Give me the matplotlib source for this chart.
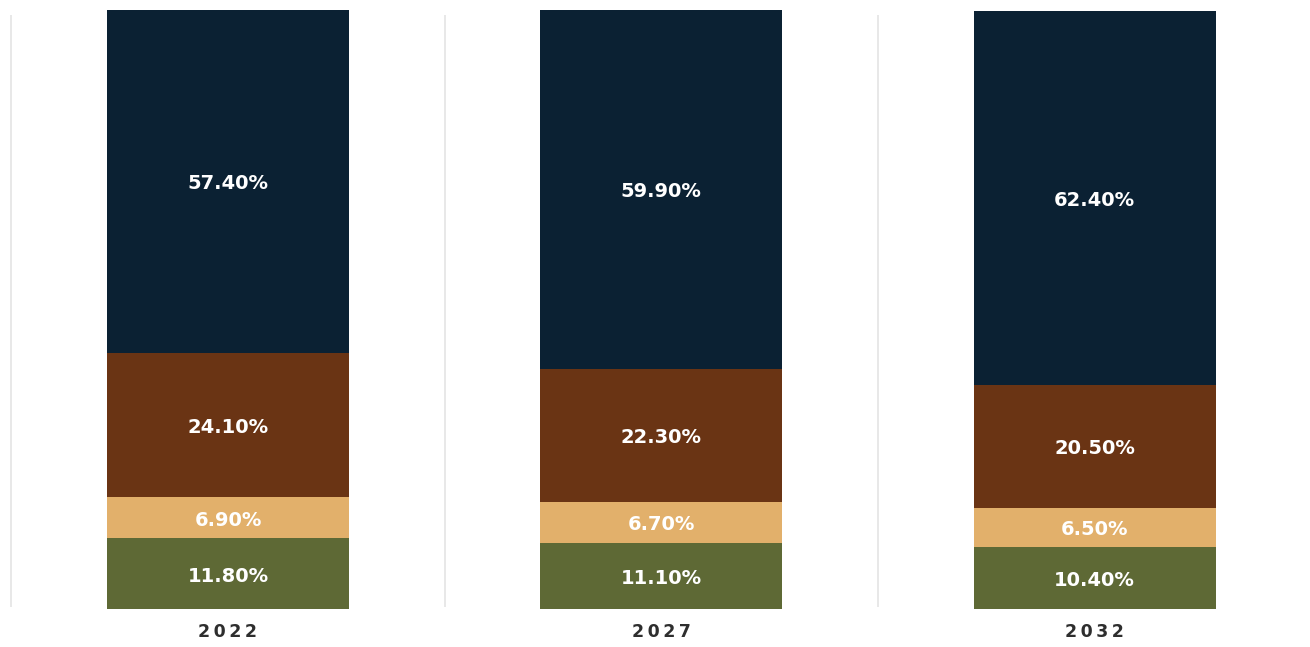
import numpy as np
import matplotlib.pyplot as plt

years = ["2022", "2027", "2032"]
# shares per segment, bottom to top
green = [11.8, 11.1, 10.4]
tan = [6.9, 6.7, 6.5]
brown = [24.1, 22.3, 20.5]
navy = [57.4, 59.9, 62.4]

series = [green, tan, brown, navy]
colors = ["#5e6935", "#e2b06b", "#6a3414", "#0b2133"]

fig = plt.figure(figsize=(13.1, 6.47), dpi=100)
ax = fig.add_axes([0, 38 / 647, 1, 599 / 647])

x = np.arange(len(years))
bottom = np.zeros(len(years))
for vals, c in zip(series, colors):
    vals = np.array(vals)
    ax.bar(x, vals, width=0.558, bottom=bottom, color=c, linewidth=0)
    for xi, b, v in zip(x, bottom, vals):
        ax.text(xi, b + v / 2 - 0.4, f"{v:.2f}%", ha="center", va="center",
                color="white", fontsize=14, fontweight="bold")
    bottom += vals

# thin separators between the year columns
ax.vlines(x - 0.5, 0.3, 99.2, color="#e4e4e4", linewidth=1.2)

for xi, y in zip(x, years):
    ax.text(xi, -2.3, "\u2009".join(y), ha="center", va="top",
            color="#2e2e2e", fontsize=12.5, fontweight="bold",
            clip_on=False)

ax.set_xlim(-0.526, 2.497)
ax.set_ylim(0, 100)
ax.axis("off")

fig.savefig("out.png", dpi=100, facecolor="white")
